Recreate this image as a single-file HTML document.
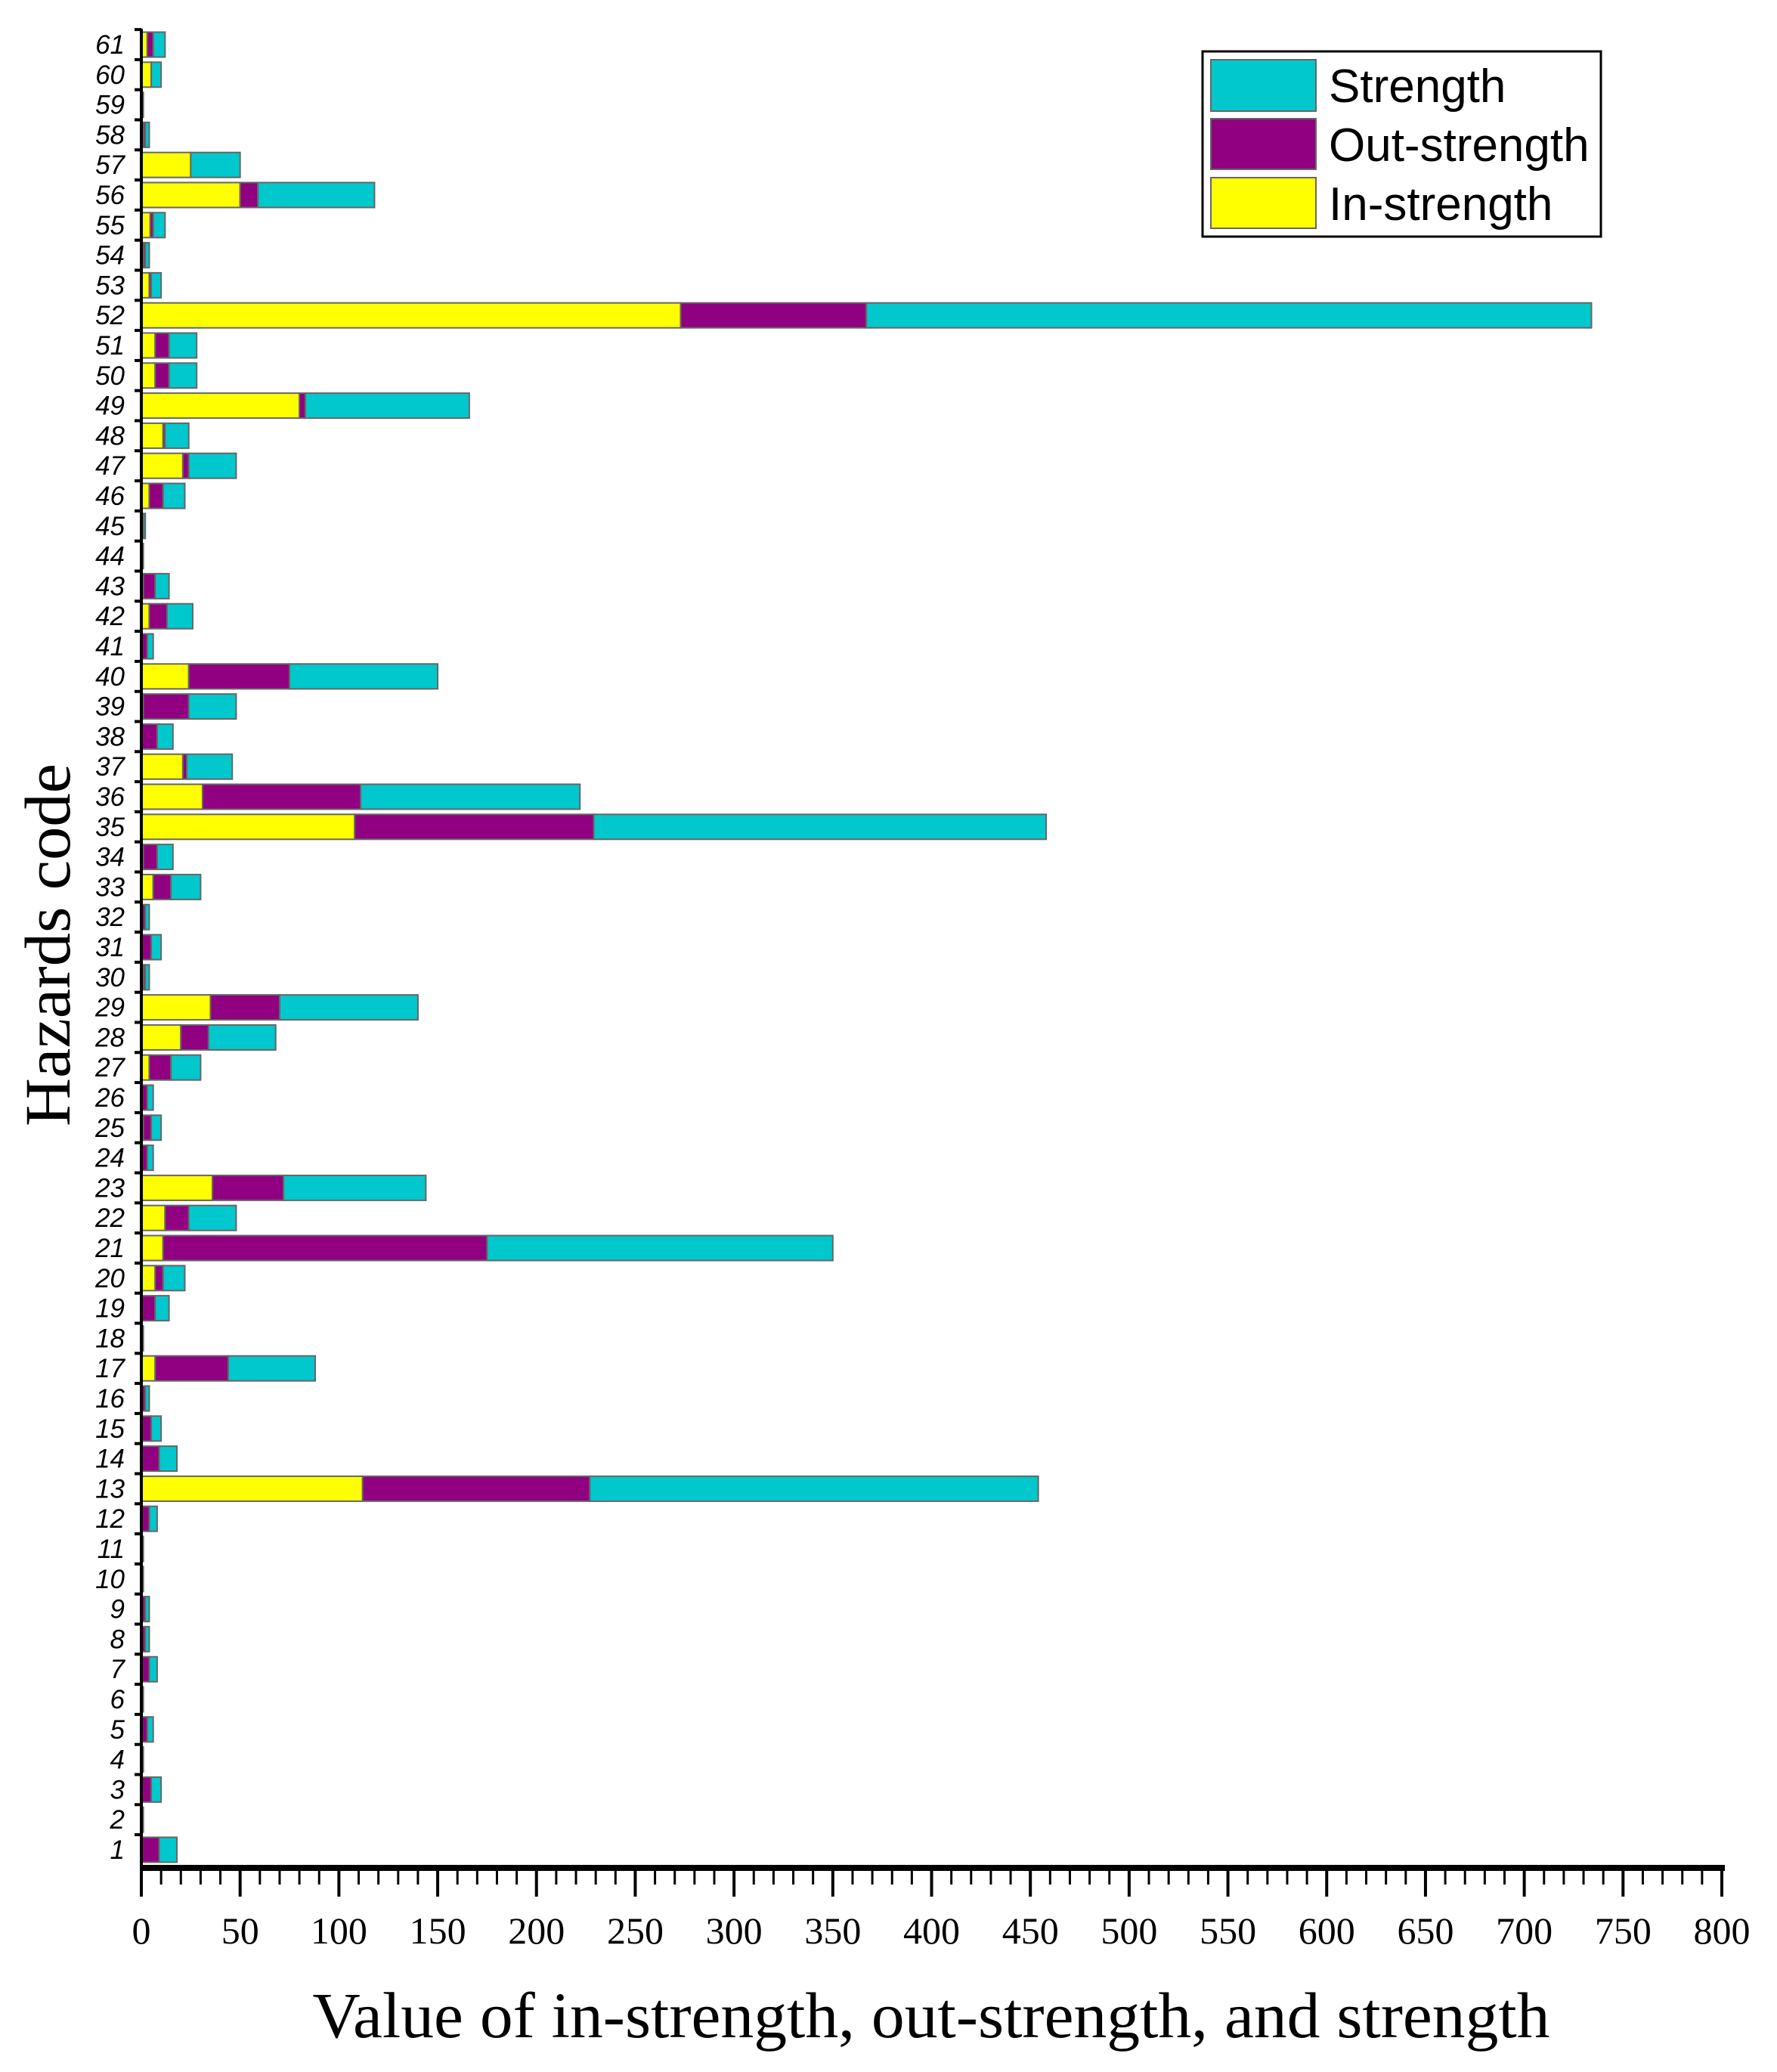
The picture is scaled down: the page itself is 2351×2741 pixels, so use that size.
<!DOCTYPE html>
<html><head><meta charset="utf-8"><style>
html,body{margin:0;padding:0;background:#fff;}
svg{display:block;}
</style></head><body>
<svg id="chart" width="2351" height="2741" viewBox="0 0 2351 2741" xmlns="http://www.w3.org/2000/svg">
<g id="bars"></g>
<g id="axes"></g>
<text x="1232" y="2695" text-anchor="middle" font-family="Liberation Serif, serif" font-size="86" textLength="1637" lengthAdjust="spacingAndGlyphs">Value of in-strength, out-strength, and strength</text>
<text transform="translate(92,1250) rotate(-90)" text-anchor="middle" font-family="Liberation Serif, serif" font-size="86" textLength="480" lengthAdjust="spacingAndGlyphs">Hazards code</text>
<g>
<rect x="1591" y="68" width="527" height="245" fill="#fff" stroke="#000" stroke-width="3"/>
<rect x="1602" y="79" width="139" height="68" fill="#00c8cc" stroke="#666" stroke-width="2"/>
<text x="1758" y="135" font-family="Liberation Sans, sans-serif" font-size="62">Strength</text>
<rect x="1602" y="157" width="139" height="67" fill="#900080" stroke="#666" stroke-width="2"/>
<text x="1758" y="213" font-family="Liberation Sans, sans-serif" font-size="62">Out-strength</text>
<rect x="1602" y="235" width="139" height="67" fill="#ffff00" stroke="#666" stroke-width="2"/>
<text x="1758" y="291" font-family="Liberation Sans, sans-serif" font-size="62">In-strength</text>
</g>
</svg>
<script>
// codes 1..61
const codes = Array.from({length:61},(_, i)=>i+1);
const inStrength = [0,0,0,0,0,0,0,0,0,0,0,0,112,0,0,0,7,0,0,7,11,12,36,0,1,0,4,20,35,1,0,0.5,6,1,108,31,21,0,1,24,0,4,1,0,0.5,4,21,11,80,7,7,273,4,1,4.5,50,25,1,0,5,3];
const outStrength = [9,0.5,5,0.5,3,0.5,4,2,2,0.5,0.5,4,115,9,5,2,37,0.5,7,4,164,12,36,3,4,3,11,14,35,1,5,1.5,9,7,121,80,2,8,23,51,3,9,6,0.5,0.5,7,3,1,3,7,7,94,1,1,1.5,9,0,1,0.5,0,3];
const strength = [9,0.5,5,0.5,3,0.5,4,2,2,0.5,0.5,4,227,9,5,2,44,0.5,7,11,175,24,72,3,5,3,15,34,70,2,5,2,15,8,229,111,23,8,24,75,3,13,7,0.5,1,11,24,12,83,14,14,367,5,2,6,59,25,2,0.5,5,6];
const xTicks = [0,50,100,150,200,250,300,350,400,450,500,550,600,650,700,750,800];

const NS='http://www.w3.org/2000/svg';
const X0=187, XS=(2278-187)/800, AXY=2471;
const rowTop=59, rowStep=39.8, barH=33;
const xs=v=>X0+v*XS;
const yc=c=>rowTop+(61-c)*rowStep;
function mk(tag,attrs,parent){const e=document.createElementNS(NS,tag);for(const k in attrs)e.setAttribute(k,attrs[k]);parent.appendChild(e);return e;}
const bars=document.getElementById('bars'), axes=document.getElementById('axes');
codes.forEach((c,i)=>{
  const segs=[[inStrength[i],'#ffff00','in'],[outStrength[i],'#900080','out'],[strength[i],'#00c8cc','strength']];
  let acc=0;
  segs.forEach(s=>{
    const r=mk('rect',{x:xs(acc),y:yc(c)-barH/2,width:Math.max(s[0]*XS,0),height:barH,fill:s[1],stroke:'#666','stroke-width':2},bars);
    
    
    acc+=s[0];
  });
  const t=mk('text',{x:165,y:yc(c)+12,'text-anchor':'end','font-family':'Liberation Sans, sans-serif','font-style':'italic','font-size':35},axes);
  t.textContent=c;
  
  
  const tk=mk('line',{x1:X0-9,x2:X0,y1:yc(c)-rowStep/2,y2:yc(c)-rowStep/2,stroke:'#000','stroke-width':4},axes);
  
  
});
const ya=mk('line',{x1:X0,x2:X0,y1:38,y2:AXY,stroke:'#000','stroke-width':4},axes);


const xa=mk('line',{x1:X0-2,x2:2282,y1:AXY,y2:AXY,stroke:'#000','stroke-width':8},axes);


for(let v=0;v<=800;v+=10){
  const major=v%50===0;
  const l=mk('line',{x1:xs(v),x2:xs(v),y1:AXY,y2:AXY+(major?38:22),stroke:'#000','stroke-width':major?4:3},axes);
  
  
}
xTicks.forEach(v=>{
  const t=mk('text',{x:xs(v),y:2559+12,'text-anchor':'middle','font-family':'Liberation Serif, serif','font-size':50},axes);
  t.textContent=v;
  
  
});
</script>
</body></html>
